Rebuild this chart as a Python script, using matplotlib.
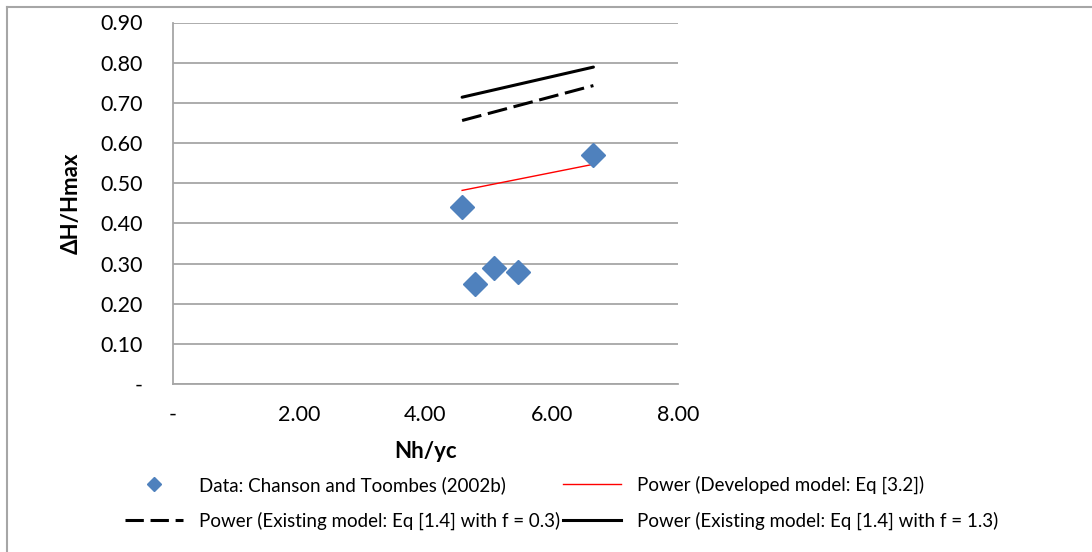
import matplotlib
matplotlib.use("Agg")
from matplotlib import pyplot as plt
from matplotlib.lines import Line2D

# Data: Chanson and Toombes (2002b)
data_x = [4.58, 4.79, 5.09, 5.46, 6.66]
data_y = [0.44, 0.25, 0.29, 0.28, 0.57]

# Trendline endpoints
fit_x = [4.58, 6.66]
developed_y = [0.482, 0.547]
existing_f03_y = [0.656, 0.743]
existing_f13_y = [0.714, 0.789]

x_ticks = [0, 2, 4, 6, 8]
y_ticks = [0.0, 0.1, 0.2, 0.3, 0.4, 0.5, 0.6, 0.7, 0.8, 0.9]

grid_color = "#a6a6a6"
main_font = ["Lato", "DejaVu Sans"]
legend_font = ["Lato", "DejaVu Sans"]


def fmt(v):
    return "-" if v == 0 else f"{v:.2f}"


fig = plt.figure(figsize=(10.92, 5.52), dpi=100)
ax = fig.add_axes([173 / 1092, 1 - 384 / 552, 505 / 1092, 361.5 / 552])

ax.set_xlim(0, 8)
ax.set_ylim(0, 0.9)
ax.set_xticks(x_ticks)
ax.set_yticks(y_ticks)
ax.set_xticklabels([fmt(v) for v in x_ticks], family=main_font, fontsize=15.5)
ax.set_yticklabels([fmt(v) for v in y_ticks], family=main_font, fontsize=15.5)
ax.tick_params(axis="both", length=0)
ax.tick_params(axis="y", pad=22)
ax.tick_params(axis="x", pad=15)

ax.grid(axis="y", color=grid_color, linewidth=1.3)
ax.set_axisbelow(True)
for side in ["top", "right"]:
    ax.spines[side].set_visible(False)
for side in ["left", "bottom"]:
    ax.spines[side].set_color(grid_color)
    ax.spines[side].set_linewidth(1.3)

ax.set_xlabel("Nh/yc", family=main_font, fontsize=16, fontweight="bold", labelpad=12)
ax.set_ylabel("ΔH/Hmax", family=main_font, fontsize=16, fontweight="bold", labelpad=13)

# Series
ax.plot(fit_x, existing_f13_y, color="black", linewidth=2.2, solid_capstyle="round")
ax.plot(fit_x, existing_f03_y, color="black", linewidth=2.2, dashes=(6.5, 2.2))
ax.plot(fit_x, developed_y, color="#ff0000", linewidth=1.0)
ax.plot(data_x, data_y, linestyle="none", marker="D", markersize=12,
        color="#4f81bd", zorder=5)

# Legend
handles = [
    Line2D([], [], linestyle="none", marker="D", markersize=7, color="#4f81bd"),
    Line2D([], [], color="black", linewidth=2.2, dashes=(6, 2.2)),
    Line2D([], [], color="#ff0000", linewidth=1.0),
    Line2D([], [], color="black", linewidth=2.2),
]
labels = [
    "Data: Chanson and Toombes (2002b)",
    "Power (Existing model: Eq [1.4] with f = 0.3)",
    "Power (Developed model: Eq [3.2])",
    "Power (Existing model: Eq [1.4] with f = 1.3)",
]
fig.legend(handles, labels, ncol=2, loc="center", bbox_to_anchor=(562 / 1092, 1 - 503 / 552),
           frameon=False, prop={"family": legend_font, "size": 13.5},
           handlelength=3.1, handletextpad=0.85, columnspacing=0.15, labelspacing=0.95)

# Chart area border (left and top only visible)
fig.add_artist(Line2D([7 / 1092, 7 / 1092], [0, 1 - 7 / 552], color=grid_color, linewidth=1.5))
fig.add_artist(Line2D([7 / 1092, 1], [1 - 7 / 552, 1 - 7 / 552], color=grid_color, linewidth=1.5))

fig.savefig("out.png", dpi=100)
